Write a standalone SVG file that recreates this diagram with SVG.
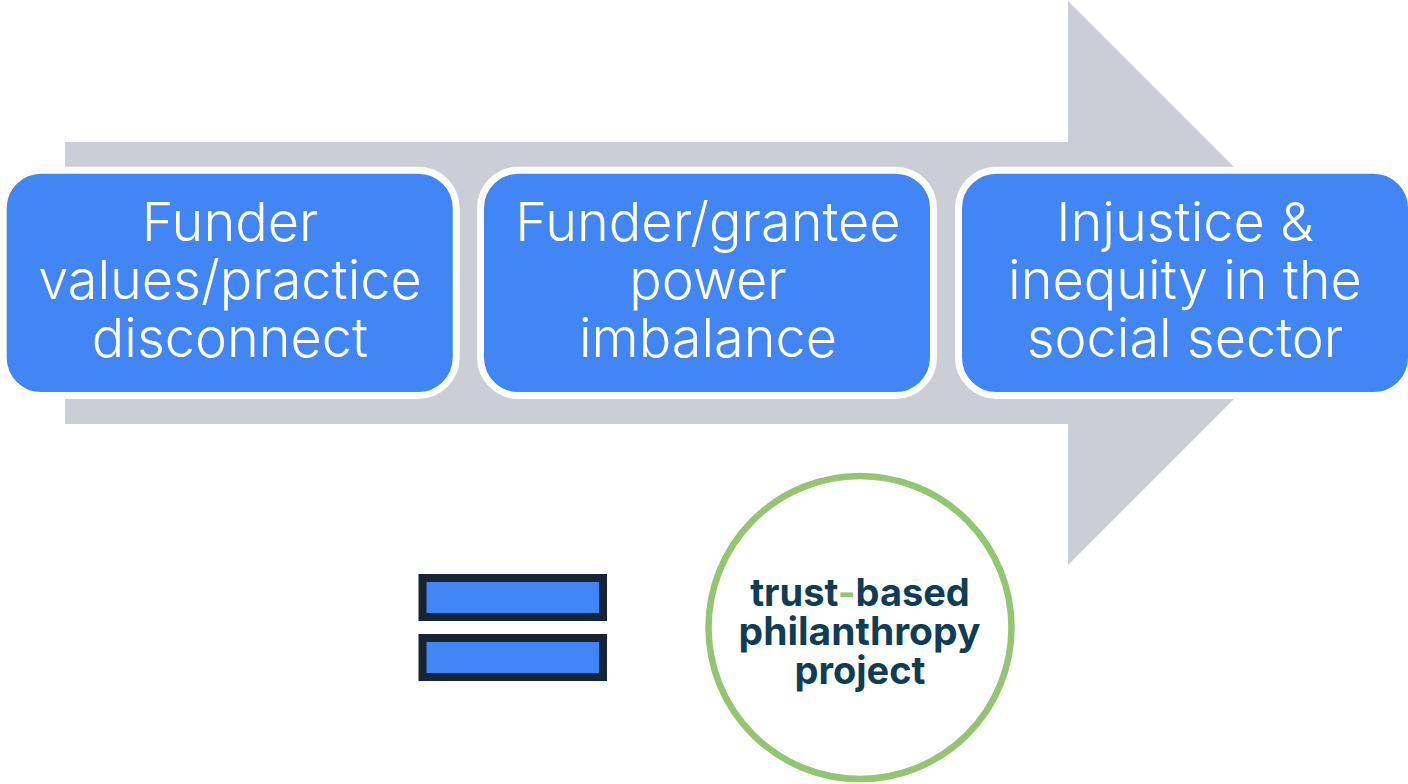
<svg xmlns="http://www.w3.org/2000/svg" width="1408" height="784" viewBox="0 0 1408 784">
<style>
.box{fill:#4285f4;stroke:#fff;stroke-width:7}
.t{font-family:"Inter","Liberation Sans",sans-serif;font-size:54px;fill:#fff;text-anchor:middle;font-weight:300}
.bar{fill:#4285f4;stroke:#152535;stroke-width:8}
.l{font-family:"Inter","Liberation Sans",sans-serif;font-size:38px;font-weight:700;fill:#0f3d56;text-anchor:middle}
</style>
<rect width="1408" height="784" fill="#fff"/>
<g id="arrow"><polygon points="65,142 1068,142 1068,1 1350,283 1068,565 1068,424 65,424" fill="#cbced6"/></g>
<g id="node1"><rect class="box" x="3.2" y="170.2" width="453" height="225.3" rx="38"/><text class="t" x="230" y="241">Funder</text><text class="t" x="230" y="299">values/practice</text><text class="t" x="230" y="357">disconnect</text></g>
<g id="node2"><rect class="box" x="480.5" y="170.2" width="453" height="225.3" rx="38"/><text class="t" x="708" y="241">Funder/grantee</text><text class="t" x="708" y="299">power</text><text class="t" x="708" y="357">imbalance</text></g>
<g id="node3"><rect class="box" x="958.5" y="170.2" width="453" height="225.3" rx="38"/><text class="t" x="1185" y="241">Injustice &amp;</text><text class="t" x="1185" y="299">inequity in the</text><text class="t" x="1185" y="357">social sector</text></g>
<g id="equals"><rect class="bar" x="422.5" y="578" width="180.5" height="39"/><rect class="bar" x="422.5" y="638" width="180.5" height="39"/></g>
<g id="logo"><circle cx="860" cy="627.5" r="151.5" fill="#fff" stroke="#93c572" stroke-width="6.5"/><text class="l" x="860" y="606">trust<tspan fill="#93c572">-</tspan>based</text><text class="l" x="859.5" y="645" style="font-size:39px">philanthropy</text><text class="l" x="860" y="684">project</text></g>
<g id="connectors"/>
</svg>
